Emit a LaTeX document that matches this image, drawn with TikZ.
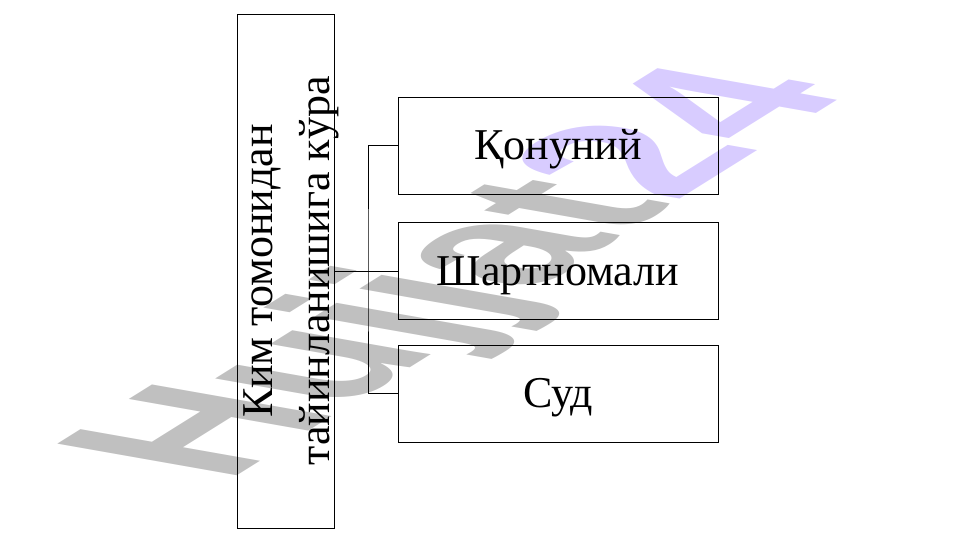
\documentclass[tikz,border=0pt]{standalone}
\usepackage{fontspec}
\setmainfont{Liberation Serif}
\setsansfont{Liberation Sans}
\usepackage{tikz}
\usetikzlibrary{positioning,calc}
\definecolor{markGray}{RGB}{192,192,192}
\definecolor{markLav}{RGB}{216,204,255}
\tikzstyle{box}=[draw, line width=0.8pt, inner sep=0pt, outer sep=0pt, minimum width=320pt, minimum height=97pt, text height=29pt, text depth=0pt, font=\fontsize{44}{52}\selectfont]
\tikzstyle{rootBox}=[draw, line width=0.8pt, inner sep=0pt, outer sep=0pt, minimum width=97pt, minimum height=514pt]
\tikzstyle{rootLabel}=[rotate=90, inner sep=0pt, align=center, font=\fontsize{44}{57}\selectfont]
\tikzstyle{edge}=[line width=0.8pt]
\tikzstyle{waterMark}=[transform shape, anchor=base west, inner sep=0pt, font=\fontsize{100}{100}\sffamily\bfseries]

\begin{document}
\begin{tikzpicture}[x=1pt, y=1pt]
      \useasboundingbox (0,0) rectangle (961,540);
      \node(root) [rootBox] at (285.5, 269){};
      \node(rootText) [rootLabel] at (291.5, 269){Ким томонидан\\тайинланишига кўра};
      \node(1) [box] at (558, 394.5){Қонуний};
      \node(2) [box] at (558, 269){Шартномали};
      \node(3) [box] at (558, 146.5){Суд};
      \coordinate (bus) at (368, 269);
      \draw[edge] (root.east) to (2.west);
      \draw[edge] (1.west) -| (bus) |- (3.west);
      % watermark
      \begin{scope}[shift={(226.5,57.3)}, cm={1.611,1.007,-2.61,0.46,(0,0)}, blend mode=multiply]
        \node(wm) [waterMark] at (0,0){\textcolor{markGray}{Hujjat}\textcolor{markLav}{24}};
      \end{scope}
    \end{tikzpicture}
\end{document}
